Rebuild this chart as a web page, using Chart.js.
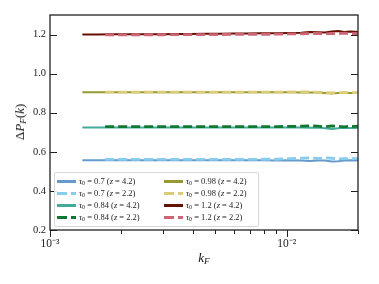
<!DOCTYPE html>
<html>
<head>
<meta charset="utf-8">
<script src="https://cdn.jsdelivr.net/npm/chart.js@4"></script>
<style>
  html, body { margin: 0; padding: 0; background: #fff; }
  #wrap { position: relative; width: 379px; height: 284px; font-family: "Liberation Serif", serif; }
  #chart { position: absolute; left: 0; top: 0; }
  .ylab { position: absolute; left: 20px; top: 122px; transform: translate(-50%, -50%) rotate(-90deg); font-size: 13px; white-space: nowrap; color: #111; }
  .xlab { position: absolute; left: 204px; top: 258px; transform: translate(-50%, -50%); font-size: 13px; color: #111; }
  sub { font-size: 70%; vertical-align: -0.25em; line-height: 0; }
  #legend { position: absolute; left: 54px; top: 172px; width: 203px; height: 53px; border: 1px solid #d8d8d8; border-radius: 2px; background: rgba(255,255,255,0.85); font-size: 8.5px; color: #222; }
  .item { position: absolute; height: 12px; line-height: 12px; white-space: nowrap; }
  .sw { position: absolute; left: 0; top: 5px; width: 19px; height: 2.5px; }
  .txt { position: absolute; left: 22px; top: 0; }
</style>
</head>
<body>
<div id="wrap">
  <canvas id="chart" width="379" height="284"></canvas>
  <div class="ylab">Δ<i>P</i><sub><i>F</i></sub>(<i>k</i>)</div>
  <div class="xlab"><i>k</i><sub><i>F</i></sub></div>
  <div id="legend"></div>
</div>
<script>
// k values of the two redshift samples
const kHigh = [0.00137, 0.0016, 0.0018, 0.002, 0.0023, 0.0026, 0.003, 0.0034, 0.0039, 0.0045, 0.0052, 0.006, 0.0068,
  0.0078, 0.009, 0.0103, 0.0115, 0.0125, 0.0135, 0.0145, 0.0155, 0.0165, 0.0175, 0.0185, 0.0195, 0.02];
const kLow = [0.00171, 0.002, 0.0023, 0.0026, 0.003, 0.0034, 0.0039, 0.0045, 0.0052, 0.006, 0.0068, 0.0078,
  0.009, 0.0103, 0.0115, 0.0125, 0.0135, 0.0145, 0.0155, 0.0165, 0.0175, 0.0185, 0.0195, 0.02];

const tau07z42 = [0.557, 0.557, 0.557, 0.557, 0.557, 0.557, 0.557, 0.557, 0.557, 0.557, 0.557, 0.557, 0.557, 0.557,
  0.556, 0.557, 0.556, 0.553, 0.555, 0.556, 0.550, 0.552, 0.556, 0.557, 0.556, 0.557];
const tau07z22 = [0.561, 0.561, 0.561, 0.561, 0.561, 0.561, 0.561, 0.561, 0.561, 0.561, 0.561, 0.562,
  0.562, 0.565, 0.568, 0.569, 0.566, 0.569, 0.567, 0.564, 0.565, 0.566, 0.565, 0.565];
const tau084z42 = [0.724, 0.724, 0.724, 0.724, 0.724, 0.724, 0.724, 0.724, 0.724, 0.724, 0.724, 0.724, 0.724, 0.724,
  0.724, 0.724, 0.724, 0.723, 0.724, 0.721, 0.717, 0.720, 0.723, 0.722, 0.722, 0.723];
const tau084z22 = [0.729, 0.729, 0.729, 0.729, 0.729, 0.729, 0.729, 0.729, 0.729, 0.729, 0.729, 0.729,
  0.729, 0.730, 0.731, 0.733, 0.731, 0.728, 0.732, 0.731, 0.728, 0.731, 0.730, 0.731];
const tau098z42 = [0.905, 0.905, 0.905, 0.905, 0.905, 0.905, 0.905, 0.905, 0.905, 0.905, 0.905, 0.905, 0.905, 0.905,
  0.905, 0.905, 0.904, 0.904, 0.903, 0.901, 0.899, 0.901, 0.902, 0.901, 0.901, 0.902];
const tau098z22 = [0.905, 0.905, 0.905, 0.905, 0.905, 0.905, 0.905, 0.905, 0.905, 0.905, 0.905, 0.905,
  0.905, 0.906, 0.907, 0.906, 0.904, 0.903, 0.902, 0.903, 0.903, 0.902, 0.903, 0.903];
const tau12z42 = [1.200, 1.200, 1.201, 1.201, 1.201, 1.202, 1.202, 1.203, 1.203, 1.204, 1.204, 1.205, 1.205,
  1.206, 1.207, 1.208, 1.209, 1.213, 1.212, 1.210, 1.216, 1.218, 1.213, 1.216, 1.214, 1.213];
const tau12z22 = [1.198, 1.198, 1.199, 1.199, 1.199, 1.200, 1.200, 1.200, 1.200, 1.201, 1.201, 1.201,
  1.202, 1.203, 1.204, 1.205, 1.206, 1.203, 1.206, 1.204, 1.207, 1.205, 1.204, 1.204];

const yTicks = [0.2, 0.4, 0.6, 0.8, 1.0, 1.2];
const xTicks = [0.001, 0.002, 0.003, 0.004, 0.005, 0.006, 0.007, 0.008, 0.009, 0.01, 0.02];
const xLabels = { 0.001: '10⁻³', 0.01: '10⁻²' };

const series = [
  { tau: '0.7', z: '4.2', k: kHigh, v: tau07z42, color: '#6699cc', dashed: false },
  { tau: '0.7', z: '2.2', k: kLow, v: tau07z22, color: '#88ccee', dashed: true },
  { tau: '0.84', z: '4.2', k: kHigh, v: tau084z42, color: '#44aa99', dashed: false },
  { tau: '0.84', z: '2.2', k: kLow, v: tau084z22, color: '#117733', dashed: true },
  { tau: '0.98', z: '4.2', k: kHigh, v: tau098z42, color: '#999933', dashed: false },
  { tau: '0.98', z: '2.2', k: kLow, v: tau098z22, color: '#ddcc77', dashed: true },
  { tau: '1.2', z: '4.2', k: kHigh, v: tau12z42, color: '#661100', dashed: false },
  { tau: '1.2', z: '2.2', k: kLow, v: tau12z22, color: '#cc6677', dashed: true }
];

const datasets = series.map((s, i) => ({
  label: `τ0 = ${s.tau} (z = ${s.z})`,
  data: s.k.map((k, j) => ({ x: k, y: s.v[j] })),
  borderColor: s.color,
  borderWidth: s.dashed ? 2.8 : 2,
  borderDash: s.dashed ? [9, 4] : [],
  pointRadius: 0,
  tension: 0,
  fill: false,
  order: 20 - i
}));

// frame and tick marks drawn from the scales
const framePlugin = {
  id: 'frame',
  afterDraw(chart) {
    const { ctx, chartArea: a, scales } = chart;
    ctx.save();
    ctx.strokeStyle = '#222';
    ctx.lineWidth = 1;
    yTicks.forEach(t => {
      const y = Math.round(scales.y.getPixelForValue(t)) + 0.5;
      ctx.beginPath();
      ctx.moveTo(a.left, y); ctx.lineTo(a.left + 7, y);
      ctx.moveTo(a.right, y); ctx.lineTo(a.right - 7, y);
      ctx.stroke();
    });
    xTicks.forEach(t => {
      const x = Math.round(scales.x.getPixelForValue(t)) + 0.5;
      const len = xLabels[t] ? 7 : 4;
      ctx.beginPath();
      ctx.moveTo(x, a.bottom); ctx.lineTo(x, a.bottom + len);
      ctx.stroke();
    });
    ctx.lineWidth = 1.3;
    ctx.strokeRect(a.left, a.top, a.right - a.left, a.bottom - a.top);
    ctx.restore();
  }
};

new Chart(document.getElementById('chart'), {
  type: 'line',
  data: { datasets },
  plugins: [framePlugin],
  options: {
    responsive: false,
    animation: false,
    events: [],
    layout: { padding: { top: 15, right: 21, left: 0, bottom: 0 } },
    plugins: { legend: { display: false }, tooltip: { enabled: false } },
    scales: {
      x: {
        type: 'logarithmic',
        min: 0.001,
        max: 0.02,
        afterFit: s => { s.height = 54; },
        afterBuildTicks: s => { s.ticks = xTicks.map(v => ({ value: v })); },
        grid: { display: false, drawTicks: false },
        border: { display: false },
        ticks: {
          autoSkip: false, maxRotation: 0, padding: 7,
          color: '#222', font: { family: 'Liberation Serif', size: 11.5 },
          callback: v => xLabels[v] || ''
        }
      },
      y: {
        type: 'linear',
        min: 0.2,
        max: 1.3,
        afterFit: s => { s.width = 50; },
        afterBuildTicks: s => { s.ticks = yTicks.map(v => ({ value: v })); },
        grid: { display: false, drawTicks: false },
        border: { display: false },
        ticks: {
          padding: 4, color: '#222', font: { family: 'Liberation Serif', size: 10.5 },
          callback: v => v.toFixed(1)
        }
      }
    }
  }
});

// legend inside the axes, two columns of four rows
const legend = document.getElementById('legend');
series.forEach((s, i) => {
  const col = Math.floor(i / 4), row = i % 4;
  const item = document.createElement('div');
  item.className = 'item';
  item.style.left = (col ? 109 : 2) + 'px';
  item.style.top = (2 + row * 12) + 'px';
  const sw = document.createElement('div');
  sw.className = 'sw';
  if (s.dashed) {
    sw.style.height = '3px';
    sw.style.background = `repeating-linear-gradient(90deg, ${s.color} 0 10px, transparent 10px 14px)`;
  } else {
    sw.style.background = s.color;
  }
  const txt = document.createElement('div');
  txt.className = 'txt';
  txt.innerHTML = `<i>τ</i><sub>0</sub> = ${s.tau} (<i>z</i> = ${s.z})`;
  item.appendChild(sw);
  item.appendChild(txt);
  legend.appendChild(item);
});
</script>
</body>
</html>
